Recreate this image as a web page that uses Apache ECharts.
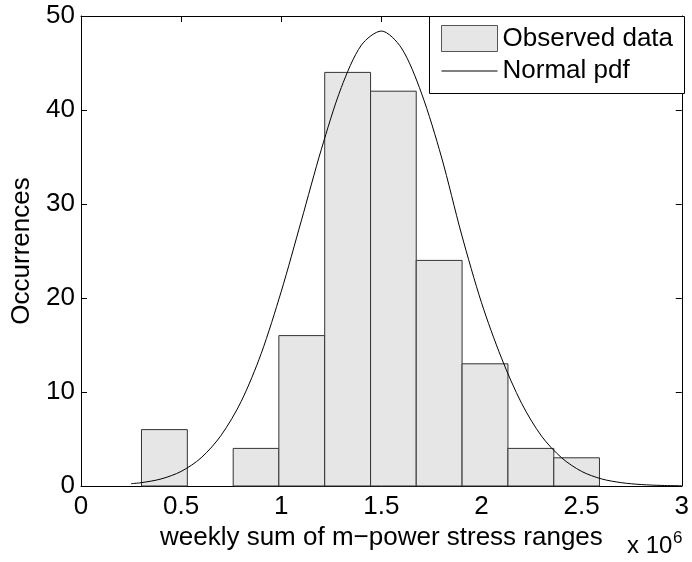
<!DOCTYPE html>
<html>
<head>
<meta charset="utf-8">
<script src="https://cdn.jsdelivr.net/npm/echarts@6/dist/echarts.min.js"></script>
<style>html,body{margin:0;padding:0;background:#fff}#c{width:692px;height:562px}</style>
</head>
<body>
<div id="c"></div>
<script>
// Histogram bins (x in units of 10^6)
const binStart = [0.302, 0.531, 0.760, 0.988, 1.217, 1.446, 1.674, 1.903, 2.132, 2.361];
const binEnd   = [0.531, 0.760, 0.988, 1.217, 1.446, 1.674, 1.903, 2.132, 2.361, 2.589];
const counts   = [6, 0, 4, 16, 44, 42, 24, 13, 4, 3];

// Normal pdf curve
const curveX = [0.25, 0.3, 0.4, 0.5, 0.6, 0.7, 0.8, 0.9, 1.0, 1.1, 1.2, 1.3, 1.4, 1.5, 1.6, 1.7, 1.8, 1.9, 2.0, 2.1, 2.2, 2.3, 2.4, 2.5, 2.6, 2.7, 2.8, 2.9, 3.0];
const curveY = [0.25, 0.35, 0.75, 1.55, 3.0, 5.4, 9.0, 14.1, 20.7, 28.2, 35.8, 42.4, 46.9, 48.4, 46.6, 41.8, 35.0, 26.8, 19.5, 13.6, 8.8, 5.3, 3.0, 1.55, 0.75, 0.35, 0.15, 0.06, 0.02];

const xTicks = { min: 0, max: 3, interval: 0.5 };
const yTicks = { min: 0, max: 50, interval: 10 };

const FONT = "'Liberation Sans', Arial, Helvetica, sans-serif";
const FS = 26;
const chart = echarts.init(document.getElementById('c'), null, { renderer: 'canvas' });

const histData = binStart.map((s, i) => [s, binEnd[i], counts[i]]);
const lineData = curveX.map((x, i) => [x, curveY[i]]);

function axisLine() { return { show: true, onZero: false, lineStyle: { color: '#000', width: 1 } }; }
function tickIn() { return { show: true, inside: true, length: 6, lineStyle: { color: '#000', width: 1 } }; }

chart.setOption({
  animation: false,
  backgroundColor: '#fff',
  textStyle: { fontFamily: FONT },
  grid: { left: 81, right: 8, top: 16, bottom: 76, containLabel: false },
  xAxis: [
    {
      type: 'value', position: 'bottom', min: xTicks.min, max: xTicks.max, interval: xTicks.interval,
      axisLine: axisLine(), axisTick: tickIn(), splitLine: { show: false },
      axisLabel: { color: '#000', fontSize: FS, lineHeight: FS, margin: 8, fontFamily: FONT,
        showMinLabel: true, showMaxLabel: true },
      name: 'weekly sum of m\u2212power stress ranges', nameLocation: 'middle', nameGap: 35,
      nameTextStyle: { color: '#000', fontSize: FS, lineHeight: FS, fontFamily: FONT }
    },
    {
      type: 'value', position: 'top', min: xTicks.min, max: xTicks.max, interval: xTicks.interval,
      axisLine: axisLine(), axisTick: tickIn(), axisLabel: { show: false }, splitLine: { show: false }
    }
  ],
  yAxis: [
    {
      type: 'value', position: 'left', min: yTicks.min, max: yTicks.max, interval: yTicks.interval,
      axisLine: axisLine(), axisTick: tickIn(), splitLine: { show: false },
      axisLabel: { color: '#000', fontSize: FS, lineHeight: FS, margin: 6, fontFamily: FONT },
      name: 'Occurrences', nameLocation: 'middle', nameGap: 43,
      nameTextStyle: { color: '#000', fontSize: FS, lineHeight: FS, fontFamily: FONT }
    },
    {
      type: 'value', position: 'right', min: yTicks.min, max: yTicks.max, interval: yTicks.interval,
      axisLine: axisLine(), axisTick: tickIn(), axisLabel: { show: false }, splitLine: { show: false }
    }
  ],
  legend: {
    orient: 'vertical', left: 441, top: 25, z: 20,
    itemWidth: 56, itemHeight: 26, itemGap: 6, padding: 0,
    textStyle: { color: '#000', fontSize: FS, fontFamily: FONT },
    data: [
      { name: 'Observed data', icon: 'rect', itemStyle: { color: '#e6e6e6', borderColor: '#555', borderWidth: 1 } },
      { name: 'Normal pdf', icon: 'path://M0,0 L0,0 Z M56,26 L56,26 Z M0,12.5 H56 V13.5 H0 Z',
        itemStyle: { color: '#000', borderWidth: 0 } }
    ]
  },
  graphic: [
    { type: 'rect', left: 429, top: 16, z: 1,
      shape: { x: 0, y: 0, width: 255, height: 77 },
      style: { fill: '#fff', stroke: '#000', lineWidth: 1 } },
    { type: 'text', left: 627, top: 546.5 - 12, z: 100,
      style: { text: 'x 10', font: '24px ' + FONT, fill: '#000' } },
    { type: 'text', left: 673, top: 538.4 - 8.5, z: 100,
      style: { text: '6', font: '17px ' + FONT, fill: '#000' } }
  ],
  series: [
    {
      name: 'Observed data', type: 'custom', xAxisIndex: 0, yAxisIndex: 0,
      encode: { x: [0, 1], y: 2 },
      data: histData,
      renderItem: function (params, api) {
        if (api.value(2) <= 0) return null;
        const p0 = api.coord([api.value(0), 0]);
        const p1 = api.coord([api.value(1), api.value(2)]);
        return {
          type: 'rect',
          shape: { x: p0[0], y: p1[1], width: p1[0] - p0[0], height: p0[1] - p1[1] },
          style: { fill: '#e6e6e6', stroke: '#333', lineWidth: 1 }
        };
      },
      itemStyle: { color: '#e6e6e6' }
    },
    {
      name: 'Normal pdf', type: 'line', xAxisIndex: 0, yAxisIndex: 0,
      data: lineData, smooth: 0.3, symbol: 'none', showSymbol: false,
      lineStyle: { color: '#000', width: 1 }, itemStyle: { color: '#000' }, z: 5
    }
  ]
});
</script>
</body>
</html>
